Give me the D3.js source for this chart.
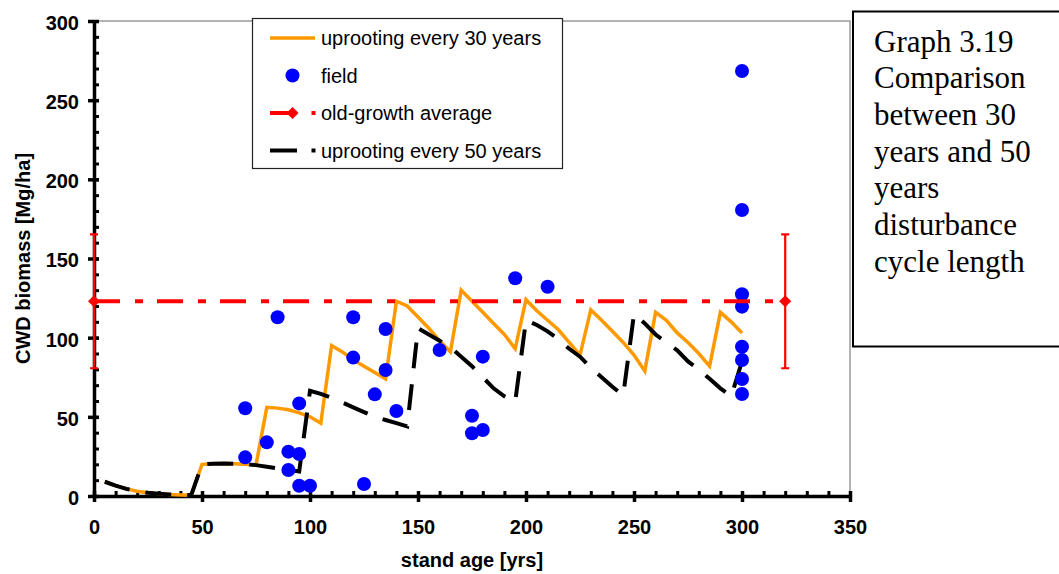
<!DOCTYPE html>
<html>
<head>
<meta charset="utf-8">
<script src="https://cdn.jsdelivr.net/npm/d3@7"></script>
<style>
  body { margin: 0; background: #fff; }
  svg { display: block; }
</style>
</head>
<body>
<div id="chart"></div>
<script>
// simulated CWD biomass, 5-year steps
const modelAge = [5, 10, 15, 20, 25, 30, 35, 40, 45, 50, 55, 60, 65, 70, 75, 80, 85, 90, 95, 100,
  105, 110, 115, 120, 125, 130, 135, 140, 145, 150, 155, 160, 165, 170, 175, 180, 185, 190, 195, 200,
  205, 210, 215, 220, 225, 230, 235, 240, 245, 250, 255, 260, 265, 270, 275, 280, 285, 290, 295, 300];
const uproot30 = [9, 6.5, 4.5, 3, 2, 1.5, 1, 0.7, 0.5, 20, 20.3, 20.5, 20.3, 20, 19.5, 56, 55.5, 54.5, 52.5, 50,
  46, 95, 91, 86, 82, 78, 74, 123, 120, 113, 106, 98, 91, 130, 123, 116, 109, 102, 93, 124,
  117, 111, 105, 97, 89, 117.5, 111, 104, 97, 89, 79, 116, 111, 103, 97, 90, 82, 116, 110, 103];
const uproot50 = [9, 6.5, 4.5, 3, 2, 1.5, 1, 0.7, 0.5, 20, 20.3, 20.5, 20.3, 20, 19.5, 18.5, 17.5, 16.5, 15.5, 66.5,
  64.5, 62, 59, 56, 53, 50, 48, 46, 44, 106, 102, 98, 94, 88, 82, 75, 68, 63, 59.5, 111,
  108, 104, 99, 93, 88, 81, 75, 69, 63.5, 115, 109, 102, 97, 92, 85, 80, 74, 68, 63, 85];

// field plots
const fieldAge = [70, 70, 80, 85, 90, 90, 95, 95, 95, 100, 120, 120, 125, 130, 135, 135, 140,
  160, 175, 175, 180, 180, 195, 210, 300, 300, 300, 300, 300, 300, 300, 300];
const fieldCWD = [55.4, 24.4, 33.9, 112.9, 28, 16.4, 58.5, 26.5, 6.5, 6.5, 112.9, 87.4, 7.6, 64.2, 105.5, 79.6, 53.7,
  92.2, 50.7, 39.6, 41.7, 88, 137.5, 132.2, 268.4, 180.6, 127.4, 119.6, 94.3, 85.9, 73.9, 64.4];

// old-growth average with error bars
const oldAge = [0, 320];
const oldMean = [123, 123];
const oldErr = [42.3, 42.3];

const xTicks = [0, 50, 100, 150, 200, 250, 300, 350];
const yTicks = [0, 50, 100, 150, 200, 250, 300];

const legendLabels = ["uprooting every 30 years", "field", "old-growth average", "uprooting every 50 years"];
const captionLines = ["Graph 3.19", "Comparison", "between 30", "years and 50", "years", "disturbance", "cycle length"];

const width = 1059, height = 574;
const sans = "'Liberation Sans', Arial, sans-serif";

const svg = d3.select("#chart").append("svg")
  .attr("width", width)
  .attr("height", height);

const x = d3.scaleLinear().domain([0, 350]).range([94, 850]);
const y = d3.scaleLinear().domain([0, 300]).range([496, 21]);

// grey frame top/right
svg.append("path")
  .attr("d", `M${x(0)},${y(300)}H${x(350)}V${y(0)}`)
  .attr("fill", "none")
  .attr("stroke", "#999")
  .attr("stroke-width", 1.5);

// minor ticks
svg.append("g")
  .attr("transform", `translate(${x(0)},0)`)
  .call(d3.axisLeft(y).tickValues(d3.range(0, 301, 10)).tickSize(-5).tickFormat(""))
  .call(g => g.select(".domain").remove())
  .call(g => g.selectAll(".tick line").attr("stroke-width", 3));

svg.append("g")
  .attr("transform", `translate(0,${y(0)})`)
  .call(d3.axisBottom(x).tickValues(d3.range(0, 351, 10)).tickSize(-5).tickFormat(""))
  .call(g => g.select(".domain").remove())
  .call(g => g.selectAll(".tick line").attr("stroke-width", 3));

// major axes
svg.append("g")
  .attr("transform", `translate(${x(0)},0)`)
  .call(d3.axisLeft(y).tickValues(yTicks).tickSizeOuter(0).tickPadding(9))
  .call(g => g.select(".domain").attr("stroke-width", 3.5))
  .call(g => g.selectAll(".tick line").attr("x1", 5).attr("x2", -6).attr("stroke-width", 3.5))
  .call(g => g.selectAll(".tick text")
    .attr("dy", "0.42em")
    .attr("font-family", sans)
    .attr("font-size", 20)
    .attr("font-weight", "bold")
    .attr("fill", "#000"));

svg.append("g")
  .attr("transform", `translate(0,${y(0)})`)
  .call(d3.axisBottom(x).tickValues(xTicks).tickSizeOuter(0).tickPadding(18))
  .call(g => g.select(".domain").attr("stroke-width", 3.5))
  .call(g => g.selectAll(".tick line").attr("y1", -5).attr("y2", 6).attr("stroke-width", 3.5))
  .call(g => g.selectAll(".tick text")
    .attr("font-family", sans)
    .attr("font-size", 20)
    .attr("font-weight", "bold")
    .attr("fill", "#000"));

// axis titles
svg.append("text")
  .attr("x", x(175))
  .attr("y", 567)
  .attr("text-anchor", "middle")
  .attr("font-family", sans)
  .attr("font-size", 20)
  .attr("font-weight", "bold")
  .text("stand age [yrs]");

svg.append("text")
  .attr("transform", `translate(30,${y(150)}) rotate(-90)`)
  .attr("text-anchor", "middle")
  .attr("font-family", sans)
  .attr("font-size", 20)
  .attr("font-weight", "bold")
  .text("CWD biomass [Mg/ha]");

const line = d3.line()
  .x((d, i) => x(modelAge[i]))
  .y(d => y(d));

svg.append("path")
  .datum(uproot30)
  .attr("d", line)
  .attr("fill", "none")
  .attr("stroke", "#ff9900")
  .attr("stroke-width", 3.5)
  .attr("stroke-linejoin", "miter");

svg.append("path")
  .datum(uproot50)
  .attr("d", line)
  .attr("fill", "none")
  .attr("stroke", "#000")
  .attr("stroke-width", 4)
  .attr("stroke-dasharray", "26,16");

svg.append("g")
  .selectAll("circle")
  .data(fieldCWD)
  .join("circle")
  .attr("cx", (d, i) => x(fieldAge[i]))
  .attr("cy", d => y(d))
  .attr("r", 7)
  .attr("fill", "#0000ff");

// old-growth line, error bars, diamonds
const diamond = d3.symbol(d3.symbolSquare, 72)();
const og = svg.append("g");
og.append("path")
  .datum(oldMean)
  .attr("d", d3.line().x((d, i) => x(oldAge[i])).y(d => y(d)))
  .attr("fill", "none")
  .attr("stroke", "#ff0000")
  .attr("stroke-width", 4)
  .attr("stroke-dasharray", "26,15,8,14");

oldMean.forEach((m, i) => {
  const cx = x(oldAge[i]);
  og.append("path")
    .attr("d", `M${cx},${y(m + oldErr[i])}V${y(m - oldErr[i])}` +
      `M${cx - 4},${y(m + oldErr[i])}H${cx + 4}M${cx - 4},${y(m - oldErr[i])}H${cx + 4}`)
    .attr("stroke", "#ff0000")
    .attr("stroke-width", 2.2)
    .attr("fill", "none");
  og.append("path")
    .attr("d", diamond)
    .attr("transform", `translate(${cx},${y(m)}) rotate(45)`)
    .attr("fill", "#ff0000");
});

// legend
const legend = svg.append("g");
legend.append("rect")
  .attr("x", 252.5).attr("y", 18.5)
  .attr("width", 310).attr("height", 150)
  .attr("fill", "#fff")
  .attr("stroke", "#222")
  .attr("stroke-width", 1.2);

const rowY = [38, 75.5, 113, 150.5];
legendLabels.forEach((lab, i) => {
  const row = legend.append("g").attr("transform", `translate(0,${rowY[i]})`);
  row.append("text")
    .attr("x", 321)
    .attr("dy", "0.36em")
    .attr("font-family", sans)
    .attr("font-size", 20)
    .text(lab);
  if (i === 0) {
    row.append("line").attr("x1", 270).attr("x2", 315)
      .attr("stroke", "#ff9900").attr("stroke-width", 3.5);
  } else if (i === 1) {
    row.append("circle").attr("cx", 292.5).attr("r", 7).attr("fill", "#0000ff");
  } else {
    const c = i === 2 ? "#ff0000" : "#000";
    row.append("line").attr("x1", 270).attr("x2", 297)
      .attr("stroke", c).attr("stroke-width", 4);
    row.append("rect").attr("x", 311.5).attr("y", -2).attr("width", 4).attr("height", 4).attr("fill", c);
    if (i === 2) {
      row.append("path")
        .attr("d", diamond)
        .attr("transform", "translate(292.5,0) rotate(45)")
        .attr("fill", c);
    }
  }
});

// caption box on the right
svg.append("rect")
  .attr("x", 853).attr("y", 11.5)
  .attr("width", 230).attr("height", 335)
  .attr("fill", "#fff")
  .attr("stroke", "#000")
  .attr("stroke-width", 2);

svg.append("g")
  .selectAll("text")
  .data(captionLines)
  .join("text")
  .attr("x", 874)
  .attr("y", (d, i) => 51.5 + i * 36.7)
  .attr("font-family", "'Liberation Serif', 'Times New Roman', serif")
  .attr("font-size", 31)
  .text(d => d);
</script>
</body>
</html>
